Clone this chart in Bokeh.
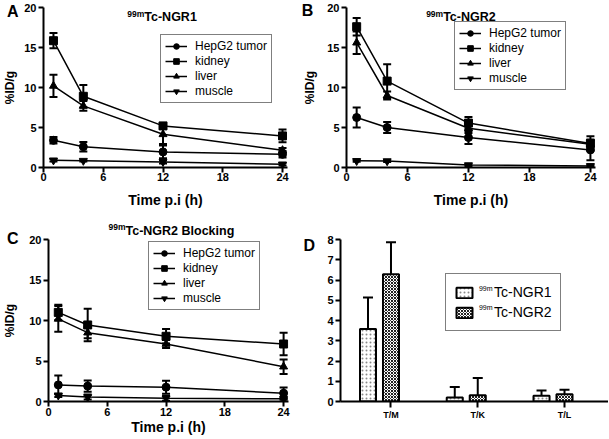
from bokeh.plotting import figure
from bokeh.models import (Range1d, FixedTicker, Whisker, TeeHead, ColumnDataSource,
                          Legend, LegendItem, Label)
from bokeh.layouts import column, row
from bokeh.embed import file_html
from bokeh.resources import INLINE

FONT = "Liberation Sans"

# ---------------- data ----------------
time_h = [1, 4, 12, 24]
x_ticks = [0, 6, 12, 18, 24]
y_ticks = [0, 5, 10, 15, 20]
organs = ["HepG2 tumor", "kidney", "liver", "muscle"]
organ_markers = ["circle", "square", "triangle", "inverted_triangle"]

# A: 99mTc-NGR1 (%ID/g mean, SD)
a_tumor = [3.4, 2.6, 1.95, 1.65]
a_tumor_sd = [0.4, 0.6, 0.8, 0.4]
a_kidney = [15.85, 8.9, 5.2, 3.95]
a_kidney_sd = [0.95, 1.4, 0.3, 0.8]
a_liver = [10.2, 7.7, 4.15, 2.15]
a_liver_sd = [1.4, 0.6, 1.2, 0.3]
a_muscle = [0.9, 0.85, 0.7, 0.4]
a_muscle_sd = [0.15, 0.1, 0.2, 0.15]

# B: 99mTc-NGR2
b_tumor = [6.25, 5.0, 3.75, 2.2]
b_tumor_sd = [1.25, 0.7, 0.8, 1.3]
b_kidney = [17.6, 10.8, 5.55, 3.0]
b_kidney_sd = [1.1, 2.1, 0.75, 0.9]
b_liver = [15.6, 9.0, 4.9, 2.9]
b_liver_sd = [1.4, 0.5, 0.6, 0.5]
b_muscle = [0.83, 0.8, 0.3, 0.2]
b_muscle_sd = [0.1, 0.1, 0.1, 0.1]

# C: 99mTc-NGR2 Blocking
c_tumor = [2.05, 1.9, 1.77, 1.03]
c_tumor_sd = [1.15, 0.7, 0.8, 0.7]
c_kidney = [11.0, 9.45, 8.05, 7.1]
c_kidney_sd = [0.95, 2.0, 0.9, 1.4]
c_liver = [10.2, 8.5, 7.1, 4.3]
c_liver_sd = [1.6, 0.7, 0.5, 0.9]
c_muscle = [0.75, 0.55, 0.4, 0.33]
c_muscle_sd = [0.2, 0.3, 0.3, 0.1]

# D: ratios
ratio_labels = ["T/M", "T/K", "T/L"]
d_ngr1 = [3.58, 0.2, 0.28]
d_ngr1_sd = [1.55, 0.52, 0.26]
d_ngr2 = [6.28, 0.31, 0.36]
d_ngr2_sd = [1.58, 0.85, 0.22]
d_ticks = [0, 1, 2, 3, 4, 5, 6, 7, 8]


def style_axes(p):
    for ax in (p.xaxis[0], p.yaxis[0]):
        ax.axis_line_width = 2
        ax.axis_line_color = "black"
        ax.major_tick_line_width = 2
        ax.major_tick_line_color = "black"
        ax.major_tick_out = 5
        ax.major_tick_in = 0
        ax.minor_tick_line_color = None
        ax.major_label_text_font = FONT
        ax.major_label_text_font_style = "bold"
        ax.major_label_text_font_size = "11px"
        ax.major_label_text_color = "black"
        ax.major_label_standoff = 2
        ax.axis_label_text_font = FONT
        ax.axis_label_text_font_style = "bold"
        ax.axis_label_text_color = "black"
    p.outline_line_color = None
    p.xgrid.visible = False
    p.ygrid.visible = False


def add_text(p, x, y, text, size, place="center", style="bold", align="left",
             baseline="alphabetic"):
    lab = Label(x=x, y=y, text=text, level="overlay",
                text_font=FONT, text_font_size=size, text_font_style=style,
                text_align=align, text_baseline=baseline, text_color="black")
    if place == "center":
        p.add_layout(lab)
    else:
        # side-panel labels are not clipped to the frame
        p.add_layout(lab, place)


def line_panel(width, height, borders, series, legend_xy, ylab_standoff, xlab_standoff,
               xlabel_gap):
    bl, br, bt, bb = borders
    p = figure(width=width, height=height, x_range=Range1d(0, 24.5), y_range=Range1d(0, 20),
               output_backend="svg", toolbar_location=None,
               min_border_left=bl, min_border_right=br, min_border_top=bt, min_border_bottom=bb)
    style_axes(p)
    p.xaxis.ticker = FixedTicker(ticks=x_ticks)
    p.yaxis.ticker = FixedTicker(ticks=y_ticks)
    p.xaxis.major_label_standoff = xlabel_gap
    p.xaxis.axis_label = "Time p.i (h)"
    p.xaxis.axis_label_text_font_size = "14px"
    p.xaxis.axis_label_standoff = xlab_standoff
    p.yaxis.axis_label = "%ID/g"
    p.yaxis.axis_label_text_font_size = "12px"
    p.yaxis.axis_label_standoff = ylab_standoff

    items = []
    for name, mk, (vals, sds) in zip(organs, organ_markers, series):
        src = ColumnDataSource(dict(x=time_h, y=vals,
                                    lo=[v - s for v, s in zip(vals, sds)],
                                    hi=[v + s for v, s in zip(vals, sds)]))
        p.add_layout(Whisker(base="x", lower="lo", upper="hi", source=src,
                             line_width=2, line_color="black",
                             upper_head=TeeHead(size=8, line_width=2, line_color="black"),
                             lower_head=TeeHead(size=8, line_width=2, line_color="black")))
        lr = p.line("x", "y", source=src, line_color="black", line_width=1.5)
        sr = p.scatter("x", "y", source=src, marker=mk, size=8,
                       fill_color="black", line_color="black")
        items.append(LegendItem(label=name, renderers=[lr, sr]))

    leg = Legend(items=items, location=legend_xy, border_line_color="black",
                 border_line_width=1, background_fill_color="white", background_fill_alpha=1,
                 padding=4, margin=0, spacing=1, label_height=14, glyph_height=14,
                 glyph_width=22, label_standoff=8, label_text_font=FONT,
                 label_text_font_size="12px", label_text_color="black")
    p.add_layout(leg)
    return p


pA = line_panel(300, 212, (40, 13, 6, 45),
                [(a_tumor, a_tumor_sd), (a_kidney, a_kidney_sd),
                 (a_liver, a_liver_sd), (a_muscle, a_muscle_sd)],
                (117, 64), 4, 8, 0)
add_text(pA, -3.67, 19.5, "A", "16px", place="right", baseline="middle")
add_text(pA, 10.12, 18.76, "Tc-NGR1", "12.5px")
add_text(pA, 10.12, 19.2, "99m", "8.5px", align="right")

pB = line_panel(308, 212, (45, 13, 7, 45),
                [(b_tumor, b_tumor_sd), (b_kidney, b_kidney_sd),
                 (b_liver, b_liver_sd), (b_muscle, b_muscle_sd)],
                (108, 77), 7, 8, 0)
add_text(pB, -4.41, 19.62, "B", "16px", place="right", baseline="middle")
add_text(pB, 9.51, 18.87, "Tc-NGR2", "12.5px")
add_text(pB, 9.51, 19.19, "99m", "8.5px", align="right")

pC = line_panel(300, 226, (45, 12, 27, 37),
                [(c_tumor, c_tumor_sd), (c_kidney, c_kidney_sd),
                 (c_liver, c_liver_sd), (c_muscle, c_muscle_sd)],
                (100, 91), 9, 0, 1)
add_text(pC, -4.23, 20.12, "C", "16px", place="right", baseline="middle")
add_text(pC, 7.86, 20.99, "Tc-NGR2 Blocking", "12.5px", place="above")
add_text(pC, 7.86, 21.6, "99m", "8.5px", place="above", align="right")

# ---------------- panel D ----------------
pos = list(range(1, len(ratio_labels) + 1))
pD = figure(width=308, height=226, x_range=Range1d(0.418, 3.507), y_range=Range1d(0, 8),
            output_backend="svg", toolbar_location=None,
            min_border_left=40, min_border_right=0, min_border_top=20, min_border_bottom=34)
style_axes(pD)
pD.yaxis.ticker = FixedTicker(ticks=d_ticks)
pD.xaxis.ticker = FixedTicker(ticks=pos)
pD.xaxis.major_label_overrides = {k: v for k, v in zip(pos, ratio_labels)}
pD.xaxis.major_label_text_font_size = "9px"
pD.xaxis.major_tick_out = 6

bar_specs = [
    (d_ngr1, d_ngr1_sd, -0.265, dict(hatch_pattern="dot", hatch_color="#8a8a8a", hatch_scale=4, hatch_weight=1)),
    (d_ngr2, d_ngr2_sd, 0.0, dict(hatch_pattern="diagonal_cross", hatch_color="#222222", hatch_scale=3, hatch_weight=1)),
]
bar_renderers = []
for vals, sds, off, hatch in bar_specs:
    src = ColumnDataSource(dict(x=[q + off for q in pos], top=vals,
                                hi=[v + s for v, s in zip(vals, sds)]))
    pD.add_layout(Whisker(base="x", lower="top", upper="hi", source=src,
                          line_width=2, line_color="black",
                          upper_head=TeeHead(size=10, line_width=2, line_color="black"),
                          lower_head=None))
    r = pD.vbar(x="x", top="top", width=0.185, source=src, fill_color="white",
                line_color="black", line_width=2, **hatch)
    bar_renderers.append(r)

legD = Legend(items=[LegendItem(label="Tc-NGR1", renderers=[bar_renderers[0]]),
                     LegendItem(label="Tc-NGR2", renderers=[bar_renderers[1]])],
              location=(105, 70), border_line_color="black", border_line_width=1,
              background_fill_color="white", background_fill_alpha=0,
              padding=8, margin=0, spacing=0, label_height=20, glyph_height=13,
              glyph_width=20, label_standoff=20, label_text_font=FONT,
              label_text_font_size="14px", label_text_color="black")
pD.add_layout(legD)
add_text(pD, 2.17, 5.56, "99m", "7px", style="normal", align="right")
add_text(pD, 2.17, 4.63, "99m", "7px", style="normal", align="right")
add_text(pD, -0.0085, 7.72, "D", "16px", place="left", baseline="middle")

layout = column(row(pA, pB), row(pC, pD))

open("out.html", "w").write(file_html(layout, INLINE))
